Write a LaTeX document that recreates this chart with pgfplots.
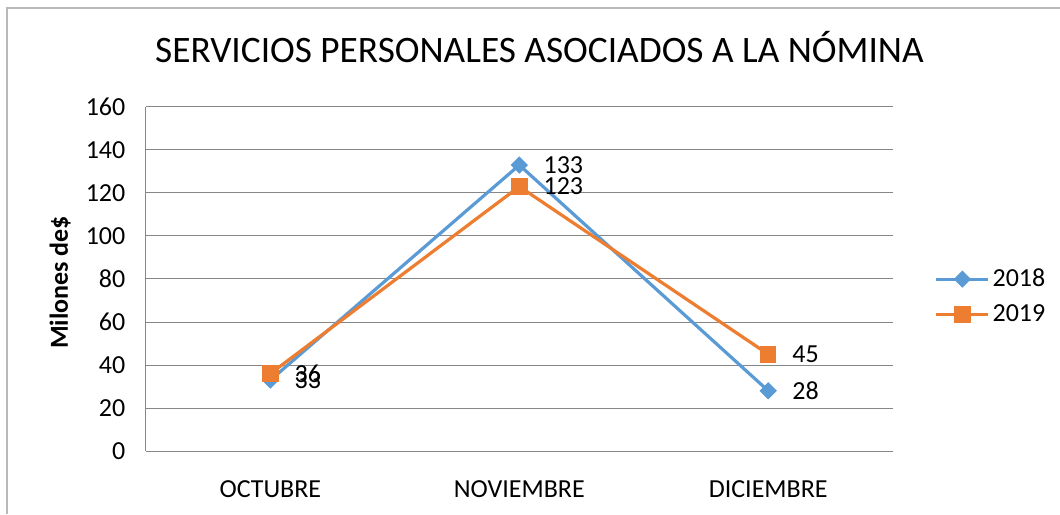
\documentclass[border=0pt]{standalone}
\usepackage{fontspec}
\setmainfont{Carlito}
\usepackage{pgfplots}
\pgfplotsset{compat=1.18}
\definecolor{s2018}{HTML}{5B9BD5}
\definecolor{s2019}{HTML}{ED7D31}
\definecolor{gridc}{HTML}{878787}
\newcommand{\lbl}{\fontsize{19.5}{23}\selectfont}
\begin{document}
\begin{tikzpicture}
\begin{axis}[
  name=ax,
  scale only axis,
  width=560pt, height=258pt,
  xmin=-0.5, xmax=2.5,
  ymin=0, ymax=160,
  xtick={0,1,2},
  xticklabels={OCTUBRE,NOVIEMBRE,DICIEMBRE},
  ytick distance=20,
  major tick length=0pt,
  ymajorgrids=true,
  grid style={gridc, line width=0.75pt},
  axis x line*=bottom,
  axis y line*=left,
  axis line style={gridc, line width=0.75pt, -},
  /pgf/number format/assume math mode=true,
  tick label style={font=\lbl, text=black},
  yticklabel style={xshift=-12pt},
  xticklabel style={yshift=-19pt},
  ylabel={\textbf{Milones de\$}},
  ylabel style={font=\lbl, at={(axis description cs:-0.115,0.49)}, anchor=center},
  title={SERVICIOS PERSONALES ASOCIADOS A LA NÓMINA},
  title style={font=\fontsize{28}{34}\selectfont, at={(axis description cs:0.527,1.15)}, anchor=center},
  clip=false,
  nodes near coords,
  every node near coord/.append style={font=\lbl, text=black, anchor=west, inner sep=0pt, xshift=17pt},
  legend style={at={(axis description cs:1.056,0.449)}, anchor=west, draw=none, fill=none, font=\lbl, row sep=8pt, inner sep=0pt, nodes={inner sep=2pt}},
  legend cell align=left,
  legend image code/.code={\draw[mark repeat=2,mark phase=2,#1] plot coordinates {(0pt,0pt)(19.5pt,0pt)(39pt,0pt)};},
]
\addplot[s2018, line width=2.4pt, mark=square*, mark size=3.4pt, mark options={rotate=45, solid}] coordinates {
  (0,33) (1,133) (2,28)
};
\addplot[s2019, line width=2.4pt, mark=square*, mark size=5pt, mark options={solid}] coordinates {
  (0,36) (1,123) (2,45)
};
\legend{2018,2019}
\end{axis}
\path[use as bounding box] ([shift={(-109.5pt,-47.25pt)}]ax.south west) rectangle ([shift={(685.5pt,338.25pt)}]ax.south west);
\draw[gray!55, line width=1.1pt] ([shift={(-104.25pt,-47.25pt)}]ax.south west) -- ([shift={(-104.25pt,332.25pt)}]ax.south west) -- ([shift={(685.5pt,332.25pt)}]ax.south west);
\end{tikzpicture}
\end{document}
